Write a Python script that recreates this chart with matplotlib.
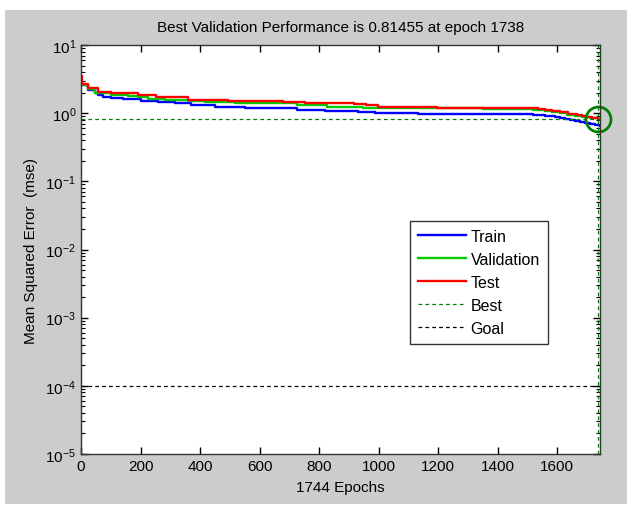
import matplotlib
matplotlib.use("Agg")
import matplotlib.pyplot as plt
from matplotlib.patches import Rectangle
from matplotlib.ticker import LogLocator, NullFormatter

plt.rcParams['font.family'] = ['Liberation Sans', 'DejaVu Sans']
plt.rcParams['mathtext.fontset'] = 'custom'
plt.rcParams['mathtext.rm'] = 'Liberation Sans'

# ---- data ----
train_epochs = [0, 24, 47, 57, 74, 101, 141, 202, 259, 316, 370, 450, 551, 726, 820, 931, 988, 1132,
                1519, 1559, 1576, 1593, 1609, 1626, 1643, 1660, 1676, 1693, 1710, 1727, 1744]
train_mse = [2.55, 2.20, 1.97, 1.86, 1.74, 1.66, 1.59, 1.52, 1.45, 1.40, 1.33, 1.25, 1.21, 1.11, 1.07, 1.03, 1.00, 0.97,
             0.94, 0.92, 0.90, 0.87, 0.85, 0.82, 0.80, 0.76, 0.73, 0.71, 0.69, 0.66, 0.64]

val_epochs = [0, 24, 47, 101, 158, 192, 225, 282, 360, 417, 517, 726, 827, 948, 988, 1351,
              1519, 1539, 1559, 1584, 1609, 1634, 1659, 1684, 1710, 1725, 1738, 1744]
val_mse = [2.60, 2.27, 1.99, 1.86, 1.78, 1.70, 1.62, 1.55, 1.49, 1.45, 1.40, 1.33, 1.25, 1.21, 1.18, 1.14,
           1.12, 1.10, 1.07, 1.03, 0.99, 0.95, 0.92, 0.89, 0.86, 0.84, 0.81455, 0.81455]

test_epochs = [0, 3, 24, 57, 101, 192, 252, 360, 494, 679, 753, 917, 958, 998, 1196,
               1509, 1534, 1559, 1584, 1609, 1638, 1667, 1684, 1700, 1718, 1737, 1744]
test_mse = [3.50, 2.65, 2.33, 2.04, 1.95, 1.86, 1.70, 1.57, 1.52, 1.45, 1.40, 1.36, 1.30, 1.24, 1.20,
            1.18, 1.15, 1.12, 1.07, 1.03, 0.98, 0.94, 0.90, 0.87, 0.84, 0.82, 0.81]

best_epoch = 1738
best_perf = 0.81455
goal = 1e-4
n_epochs = 1744
x_ticks = [0, 200, 400, 600, 800, 1000, 1200, 1400, 1600]

FS = 11

# ---- figure ----
fig = plt.figure(figsize=(6.27, 5.06), dpi=100)
fig.patch.set_facecolor('white')
fig.patches.append(Rectangle((5 / 627, 1 / 506), 1, 1 - 12 / 506, transform=fig.transFigure,
                             facecolor='#cccccc', edgecolor='none', zorder=-10))

ax = fig.add_axes([81 / 627, 51 / 506, 519 / 627, 409 / 506])
ax.set_facecolor('white')

ax.plot(train_epochs, train_mse, color=(0, 0, 1), lw=1.7, drawstyle='steps-post', label='Train')
ax.plot(val_epochs, val_mse, color=(0, 0.8, 0), lw=1.7, drawstyle='steps-post', label='Validation')
ax.plot(test_epochs, test_mse, color=(1, 0, 0), lw=1.7, drawstyle='steps-post', label='Test')
ax.plot([0, n_epochs], [best_perf, best_perf], color=(0, 0.5, 0), lw=0.9, ls=(0, (3, 2.5)), label='Best')
ax.plot([best_epoch, best_epoch], [1e-5, 1e1], color=(0, 0.5, 0), lw=0.9, ls=(0, (3, 2.5)))
ax.plot([0, n_epochs], [goal, goal], color='black', lw=0.9, ls=(0, (3, 2.5)), label='Goal')
ax.plot([best_epoch], [best_perf], marker='o', markersize=18, markerfacecolor='none',
        markeredgecolor=(0, 0.5, 0), markeredgewidth=2, clip_on=False, ls='none')

ax.set_yscale('log')
ax.set_ylim(1e-5, 1e1)
ax.set_xlim(0, n_epochs)
ax.set_xticks(x_ticks)
ax.yaxis.set_major_locator(LogLocator(base=10, numticks=10))
ax.yaxis.set_minor_locator(LogLocator(base=10, subs=range(2, 10), numticks=10))
ax.yaxis.set_minor_formatter(NullFormatter())

ax.tick_params(which='both', direction='in', top=True, right=True, labelsize=FS, colors='black')
ax.tick_params(which='major', length=5, width=1)
ax.tick_params(which='minor', length=3, width=0.8)
for s in ax.spines.values():
    s.set_color('#333333')
    s.set_linewidth(1)

ax.set_title('Best Validation Performance is 0.81455 at epoch 1738', fontsize=FS, pad=10)
ax.set_xlabel('1744 Epochs', fontsize=FS, labelpad=5)
ax.set_ylabel('Mean Squared Error  (mse)', fontsize=FS, labelpad=5)

leg = ax.legend(loc='upper left', bbox_to_anchor=(0.634, 0.570), fontsize=11.5, frameon=True,
                fancybox=False, edgecolor='black', handlelength=3.0, borderpad=0.5,
                labelspacing=0.5, handletextpad=0.3, borderaxespad=0)
leg.get_frame().set_linewidth(1)

fig.savefig('out.png', dpi=100, facecolor=fig.get_facecolor())
